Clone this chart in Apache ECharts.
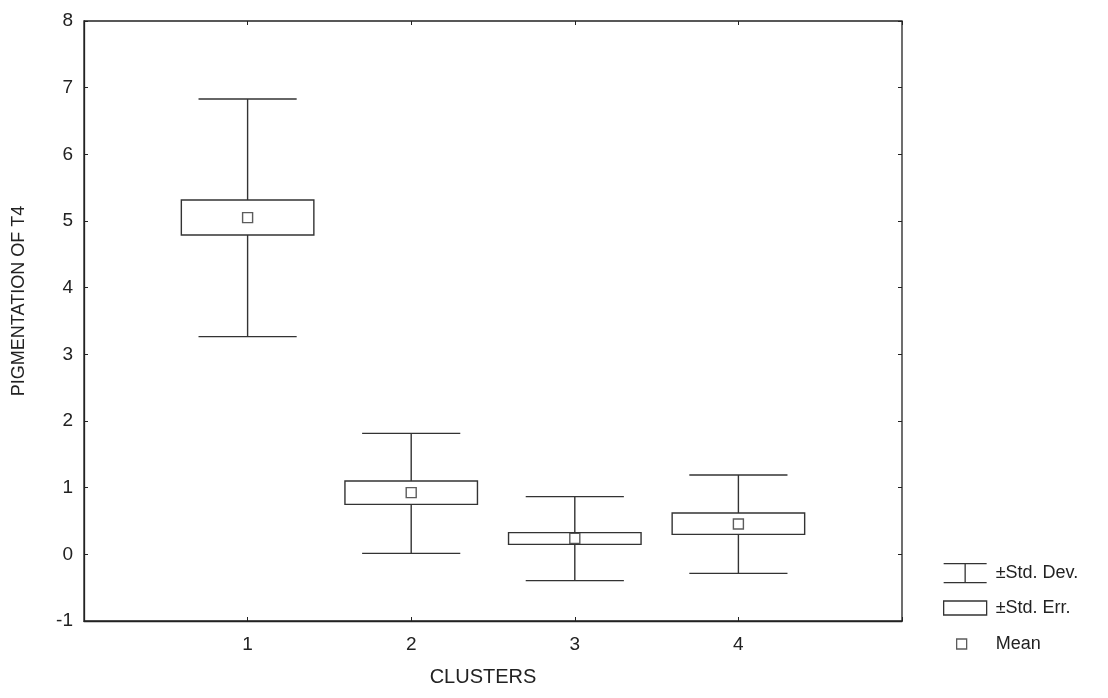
<!DOCTYPE html>
<html>
<head>
<meta charset="utf-8">
<script src="https://cdn.jsdelivr.net/npm/echarts@6/dist/echarts.min.js"></script>
<style>html,body{margin:0;padding:0;background:#fff;}#chart{width:1108px;height:698px;}</style>
</head>
<body>
<div id="chart"></div>
<script>
// ---- data ----
const clusters = [1, 2, 3, 4];
const means  = [5.05, 0.925, 0.24, 0.455];
const seLow  = [4.79, 0.75, 0.15, 0.30];
const seHigh = [5.315, 1.10, 0.325, 0.62];
const sdLow  = [3.265, 0.015, -0.395, -0.285];
const sdHigh = [6.83, 1.815, 0.865, 1.19];
const xTickLabels = ['1', '2', '3', '4'];
const yTicks = [-1, 0, 1, 2, 3, 4, 5, 6, 7, 8];

const INK = '#333';
const FONT = 'Liberation Sans, Arial, sans-serif';
const CAP_HALF = 0.30;
const BOX_HALF = 0.405;

const sdData = clusters.map((c, i) => [c, sdLow[i], sdHigh[i]]);
const seData = clusters.map((c, i) => [c, seLow[i], seHigh[i]]);
const meanData = clusters.map((c, i) => [c, means[i]]);

const chart = echarts.init(document.getElementById('chart'), null, {renderer: 'canvas'});

const option = {
  animation: false,
  backgroundColor: '#fff',
  grid: {left: 84, top: 21, right: 206, bottom: 77, show: true, borderColor: '#222', borderWidth: 1.3, backgroundColor: 'transparent'},
  xAxis: [{
    type: 'value', min: 0, max: 5, interval: 1,
    name: 'CLUSTERS', nameLocation: 'middle', nameGap: 46,
    nameTextStyle: {fontFamily: FONT, fontSize: 20, color: '#222', padding: [0, 20, 0, 0]},
    axisLine: {show: true, onZero: false, lineStyle: {color: '#222', width: 1.3}},
    axisTick: {show: true, inside: true, length: 4, lineStyle: {color: '#222'}},
    axisLabel: {fontFamily: FONT, fontSize: 19, color: '#222', margin: 14,
      formatter: v => (v >= 1 && v <= 4) ? xTickLabels[v - 1] : ''},
    splitLine: {show: false}
  }, {
    type: 'value', position: 'top', min: 0, max: 5, interval: 1,
    axisLine: {show: false, onZero: false}, axisTick: {show: true, inside: true, length: 4, lineStyle: {color: '#222'}},
    axisLabel: {show: false}, splitLine: {show: false}
  }],
  yAxis: [{
    type: 'value', min: yTicks[0], max: yTicks[yTicks.length - 1], interval: 1,
    name: 'PIGMENTATION OF T4', nameLocation: 'middle', nameGap: 56, nameRotate: 90,
    nameTextStyle: {fontFamily: FONT, fontSize: 18, color: '#222', padding: [0, 0, 0, 40]},
    axisLine: {show: true, onZero: false, lineStyle: {color: '#222', width: 1.3}},
    axisTick: {show: true, inside: true, length: 4, lineStyle: {color: '#222'}},
    axisLabel: {fontFamily: FONT, fontSize: 19, color: '#222', margin: 11},
    splitLine: {show: false}
  }, {
    type: 'value', position: 'right', min: yTicks[0], max: yTicks[yTicks.length - 1], interval: 1,
    axisLine: {show: false, onZero: false}, axisTick: {show: true, inside: true, length: 4, lineStyle: {color: '#222'}},
    axisLabel: {show: false}, splitLine: {show: false}
  }],
  legend: [{
    data: [{name: '±Std. Dev.', icon: 'path://M0,0H43M21.5,0V19M0,19H43'}],
    orient: 'vertical', left: 938, top: 558, itemWidth: 43, itemHeight: 19,
    itemStyle: {color: 'rgba(0,0,0,0)', borderColor: INK, borderWidth: 1.3},
    textStyle: {fontFamily: FONT, fontSize: 18, color: '#222', padding: [0, 0, 0, 4]},
    selectedMode: false
  }, {
    data: [{name: '±Std. Err.', icon: 'rect'}],
    orient: 'vertical', left: 938, top: 594, itemWidth: 43, itemHeight: 14,
    itemStyle: {color: '#fff', borderColor: INK, borderWidth: 1.3},
    textStyle: {fontFamily: FONT, fontSize: 18, color: '#222', padding: [0, 0, 0, 4]},
    selectedMode: false
  }, {
    data: [{name: 'Mean', icon: 'rect'}],
    orient: 'vertical', left: 951, top: 630, itemWidth: 10, itemHeight: 10,
    itemStyle: {color: '#fff', borderColor: INK, borderWidth: 1.3},
    textStyle: {fontFamily: FONT, fontSize: 18, color: '#222', padding: [0, 0, 0, 24]},
    selectedMode: false
  }],
  series: [{
    name: '±Std. Dev.', type: 'custom', data: sdData, z: 2,
    color: INK,
    encode: {x: 0, y: [1, 2]},
    renderItem: function (params, api) {
      const x = api.value(0);
      const lo = api.coord([x, api.value(1)]);
      const hi = api.coord([x, api.value(2)]);
      const l = api.coord([x - CAP_HALF, api.value(2)])[0];
      const r = api.coord([x + CAP_HALF, api.value(2)])[0];
      const style = {stroke: INK, lineWidth: 1.4, fill: null};
      return {type: 'group', children: [
        {type: 'line', shape: {x1: lo[0], y1: lo[1], x2: hi[0], y2: hi[1]}, style},
        {type: 'line', shape: {x1: l, y1: hi[1], x2: r, y2: hi[1]}, style},
        {type: 'line', shape: {x1: l, y1: lo[1], x2: r, y2: lo[1]}, style}
      ]};
    }
  }, {
    name: '±Std. Err.', type: 'custom', data: seData, z: 3,
    color: INK,
    encode: {x: 0, y: [1, 2]},
    renderItem: function (params, api) {
      const x = api.value(0);
      const tl = api.coord([x - BOX_HALF, api.value(2)]);
      const br = api.coord([x + BOX_HALF, api.value(1)]);
      return {type: 'rect', shape: {x: tl[0], y: tl[1], width: br[0] - tl[0], height: br[1] - tl[1]},
        style: {fill: '#fff', stroke: INK, lineWidth: 1.4}};
    }
  }, {
    name: 'Mean', type: 'scatter', data: meanData, z: 4,
    symbol: 'rect', symbolSize: 10,
    itemStyle: {color: '#fff', borderColor: INK, borderWidth: 1.4}
  }]
};
chart.setOption(option);
</script>
</body>
</html>
